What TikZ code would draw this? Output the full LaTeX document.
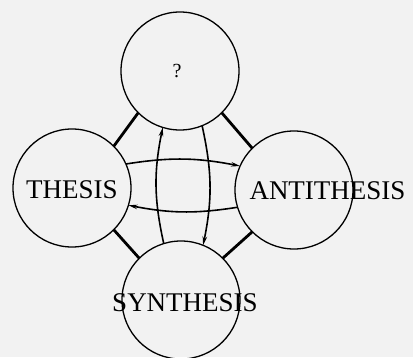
\documentclass[tikz,border=0pt]{standalone}
\usepackage{fontspec}
\setmainfont{Liberation Serif}
\usetikzlibrary{arrows.meta}
\definecolor{bgc}{HTML}{F2F2F2}
\begin{document}
\begin{tikzpicture}[x=1pt,y=1pt,
  ring/.style={circle,draw=black,line width=1.3pt,minimum size=118pt,inner sep=0pt,outer sep=0pt},
  tie/.style={line width=2.8pt},
  flow/.style={line width=1.6pt,-{Stealth[length=9pt,width=4.5pt]}},
  lbl/.style={font=\fontsize{27}{32}\selectfont,inner sep=0pt}]
\fill[bgc] (0,0) rectangle (413,357);
\useasboundingbox (0,0) rectangle (413,357);
\node[ring] (T) at (180,286) {};
\node[ring] (L) at (72,169) {};
\node[ring] (R) at (294,167) {};
\node[ring] (B) at (181,57) {};
\draw[tie] (T.225) -- (L.45);
\draw[tie] (T.315) -- (R.135);
\draw[tie] (L.315) -- (B.135);
\draw[tie] (R.225) -- (B.45);
\draw[flow] (L.24) to[bend left=10] (R.156);
\draw[flow] (R.197) to[bend left=10] (L.343);
\draw[flow] (B.107) to[bend left=12] (T.253);
\draw[flow] (T.292) to[bend left=12] (B.68);
\node[lbl,font=\fontsize{20}{24}\selectfont] (q) at (177,286) {?};
\node[lbl] (th) at (72,167) {THESIS};
\node[lbl] (an) at (327.5,166) {ANTITHESIS};
\node[lbl] (sy) at (185,54) {SYNTHESIS};
\end{tikzpicture}
\end{document}
